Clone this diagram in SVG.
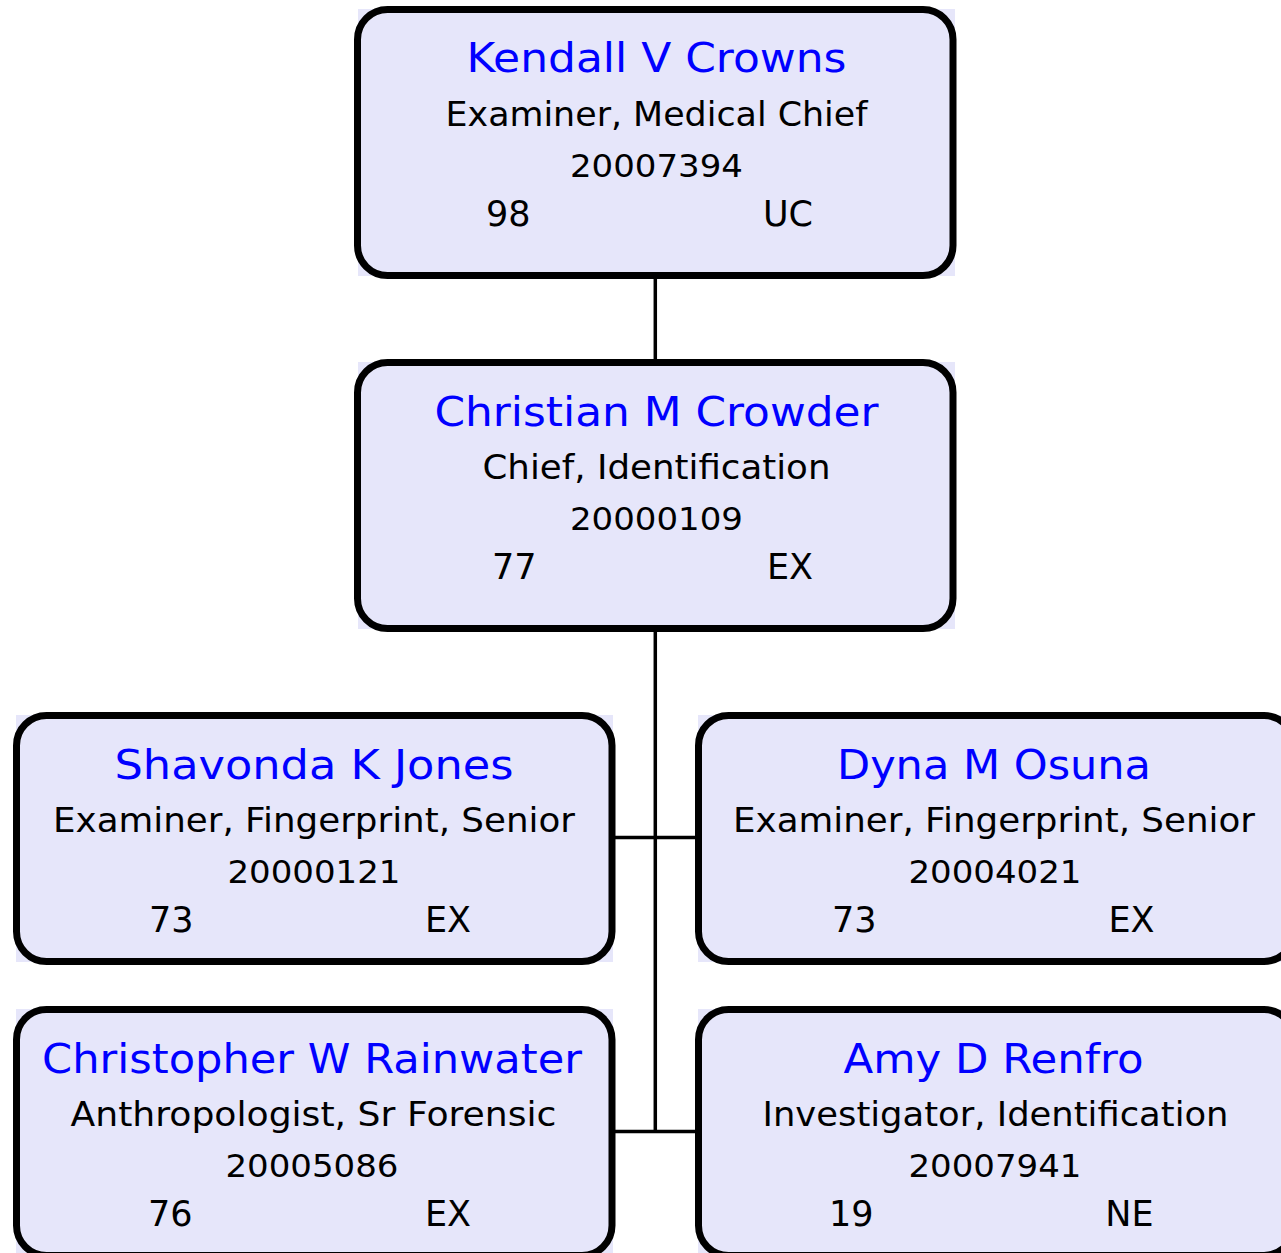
<svg xmlns="http://www.w3.org/2000/svg" width="1281" height="1253" viewBox="0 0 1281 1253">
<style>
.bg{fill:#e6e6fa}
.box{fill:#e6e6fa;stroke:#000;stroke-width:7}
.nm{font-family:"DejaVu Sans",Verdana,sans-serif;font-size:40.5px;fill:#0000ff;text-anchor:middle}
.tl{font-family:"DejaVu Sans",Verdana,sans-serif;font-size:33px;fill:#000;text-anchor:middle}
.num{font-family:"DejaVu Sans",Verdana,sans-serif;font-size:32.5px;fill:#000;text-anchor:middle}
.lt{font-family:"DejaVu Sans",Verdana,sans-serif;font-size:35px;fill:#000}
.rt{font-family:"DejaVu Sans",Verdana,sans-serif;font-size:35px;fill:#000;text-anchor:end}
.cn{stroke:#000;stroke-width:3.5;fill:none}
</style>
<rect width="1281" height="1253" fill="#fff"/>
<g id="connectors">
<line class="cn" x1="655.3" y1="276" x2="655.3" y2="362"/>
<line class="cn" x1="655.3" y1="629" x2="655.3" y2="1133"/>
<line class="cn" x1="612" y1="837.5" x2="698" y2="837.5"/>
<line class="cn" x1="612" y1="1131.5" x2="698" y2="1131.5"/>
</g>
<g id="node1">
<rect class="bg" x="358" y="9" width="597" height="267"/>
<rect class="box" x="357.5" y="9.5" width="595.5" height="266" rx="30"/>
<text class="nm" x="656.5" y="72" textLength="380" lengthAdjust="spacingAndGlyphs">Kendall V Crowns</text>
<text class="tl" x="656.5" y="125.5" textLength="422" lengthAdjust="spacingAndGlyphs">Examiner, Medical Chief</text>
<text class="num" x="656.5" y="176.5" textLength="173" lengthAdjust="spacingAndGlyphs">20007394</text>
<text class="lt" x="486" y="225.5">98</text>
<text class="rt" x="813" y="225.5">UC</text>
</g>
<g id="node2">
<rect class="bg" x="358" y="362" width="597" height="267"/>
<rect class="box" x="357.5" y="362.5" width="595.5" height="266" rx="30"/>
<text class="nm" x="656.5" y="425.5" textLength="444" lengthAdjust="spacingAndGlyphs">Christian M Crowder</text>
<text class="tl" x="656.5" y="478.5" textLength="348" lengthAdjust="spacingAndGlyphs">Chief, Identification</text>
<text class="num" x="656.5" y="529.5" textLength="173" lengthAdjust="spacingAndGlyphs">20000109</text>
<text class="lt" x="492" y="578.5">77</text>
<text class="rt" x="813" y="578.5">EX</text>
</g>
<g id="node3">
<rect class="bg" x="16" y="715" width="597" height="247"/>
<rect class="box" x="16.5" y="715.5" width="595.5" height="246" rx="30"/>
<text class="nm" x="314" y="778.5" textLength="399" lengthAdjust="spacingAndGlyphs">Shavonda K Jones</text>
<text class="tl" x="314" y="831.5" textLength="522" lengthAdjust="spacingAndGlyphs">Examiner, Fingerprint, Senior</text>
<text class="num" x="314" y="882.5" textLength="173" lengthAdjust="spacingAndGlyphs">20000121</text>
<text class="lt" x="149" y="931.5">73</text>
<text class="rt" x="471" y="931.5">EX</text>
</g>
<g id="node4">
<rect class="bg" x="698" y="715" width="597" height="247"/>
<rect class="box" x="698.5" y="715.5" width="595.5" height="246" rx="30"/>
<text class="nm" x="994" y="778.5" textLength="314" lengthAdjust="spacingAndGlyphs">Dyna M Osuna</text>
<text class="tl" x="994" y="831.5" textLength="522" lengthAdjust="spacingAndGlyphs">Examiner, Fingerprint, Senior</text>
<text class="num" x="995" y="882.5" textLength="173" lengthAdjust="spacingAndGlyphs">20004021</text>
<text class="lt" x="832" y="931.5">73</text>
<text class="rt" x="1154.5" y="931.5">EX</text>
</g>
<g id="node5">
<rect class="bg" x="16" y="1009" width="597" height="247"/>
<rect class="box" x="16.5" y="1009.5" width="595.5" height="246" rx="30"/>
<text class="nm" x="312" y="1072.5" textLength="540" lengthAdjust="spacingAndGlyphs">Christopher W Rainwater</text>
<text class="tl" x="313.5" y="1125.5" textLength="486" lengthAdjust="spacingAndGlyphs">Anthropologist, Sr Forensic</text>
<text class="num" x="312" y="1176.5" textLength="173" lengthAdjust="spacingAndGlyphs">20005086</text>
<text class="lt" x="148" y="1225.5">76</text>
<text class="rt" x="471" y="1225.5">EX</text>
</g>
<g id="node6">
<rect class="bg" x="698" y="1009" width="597" height="247"/>
<rect class="box" x="698.5" y="1009.5" width="595.5" height="246" rx="30"/>
<text class="nm" x="993.5" y="1072.5" textLength="300" lengthAdjust="spacingAndGlyphs">Amy D Renfro</text>
<text class="tl" x="995.5" y="1125.5" textLength="466" lengthAdjust="spacingAndGlyphs">Investigator, Identification</text>
<text class="num" x="995" y="1176.5" textLength="173" lengthAdjust="spacingAndGlyphs">20007941</text>
<text class="lt" x="829" y="1225.5">19</text>
<text class="rt" x="1153.5" y="1225.5">NE</text>
</g>
</svg>
